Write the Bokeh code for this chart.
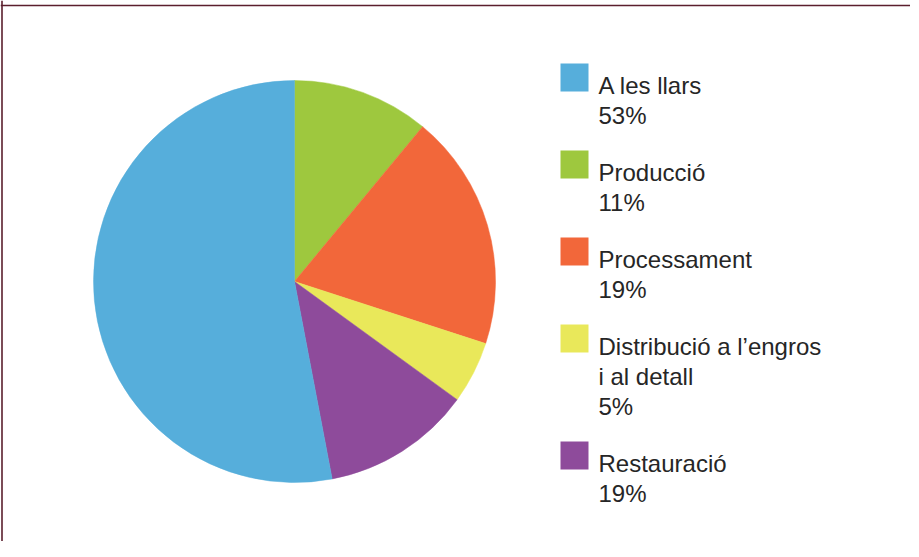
import math
from bokeh.plotting import figure
from bokeh.models import Range1d, Span, ColumnDataSource
from bokeh.core.properties import value
from bokeh.embed import file_html
from bokeh.resources import INLINE

# ---- data (slices drawn clockwise from 12 o'clock) ----
categories = ["Producció", "Processament", "Distribució a l’engros\ni al detall", "Restauració", "A les llars"]
values = [11, 19, 5, 12, 53]          # slice sizes as drawn
colors = ["#9EC83E", "#F2673A", "#E9E85A", "#8E4B9B", "#56AEDB"]

# legend order and printed percentage labels
legend_order = ["A les llars", "Producció", "Processament", "Distribució a l’engros\ni al detall", "Restauració"]
legend_pct = ["53%", "11%", "19%", "5%", "19%"]

W, H = 910, 541
p = figure(width=W, height=H, output_backend="svg", toolbar_location=None,
           x_range=Range1d(0, W), y_range=Range1d(0, H),
           min_border=0, min_border_left=0, min_border_right=0,
           min_border_top=0, min_border_bottom=0)
p.axis.visible = False
p.grid.visible = False
p.outline_line_color = None
p.background_fill_color = "white"
p.border_fill_color = "white"

# frame (top and left edges visible)
p.add_layout(Span(location=H - 5, dimension="width", line_color="#5B1F2D", line_width=1.6))
p.add_layout(Span(location=1.5, dimension="height", line_color="#5B1F2D", line_width=1.6))

# ---- pie ----
cx, cy, r = 294, H - 281, 201
total = sum(values)
starts, ends = [], []
acc = 0.0
for v in values:
    a0 = math.pi / 2 - 2 * math.pi * acc / total
    acc += v
    a1 = math.pi / 2 - 2 * math.pi * acc / total
    starts.append(a0)
    ends.append(a1)
src = ColumnDataSource(dict(start=starts, end=ends, color=colors))
p.wedge(x=cx, y=cy, radius=r, start_angle="start", end_angle="end",
        direction="clock", fill_color="color", line_color="color", line_width=0.5,
        source=src)

# ---- legend ----
color_of = dict(zip(categories, colors))
top = 71 - 8  # offset from figure top
sq_x, sq_y, sq_cols = [], [], []
tx, ty, tt = [], [], []
for name, pct in zip(legend_order, legend_pct):
    lines = name.split("\n") + [pct]
    sq_x.append(574)
    sq_y.append(H - (top + 14))
    sq_cols.append(color_of[name])
    for i, ln in enumerate(lines):
        tx.append(598)
        ty.append(H - (top + 21.5 + 30 * i))
        tt.append(ln)
    top += 30 * len(lines) + 27

p.rect(x=sq_x, y=sq_y, width=28, height=28, width_units="screen", height_units="screen",
       fill_color=sq_cols, line_color=None)
p.text(x=tx, y=ty, text=tt, text_font=value("Liberation Sans"), text_font_size="24px",
       text_color="#262626", text_baseline="alphabetic", text_align="left")

open("out.html", "w").write(file_html(p, INLINE))
